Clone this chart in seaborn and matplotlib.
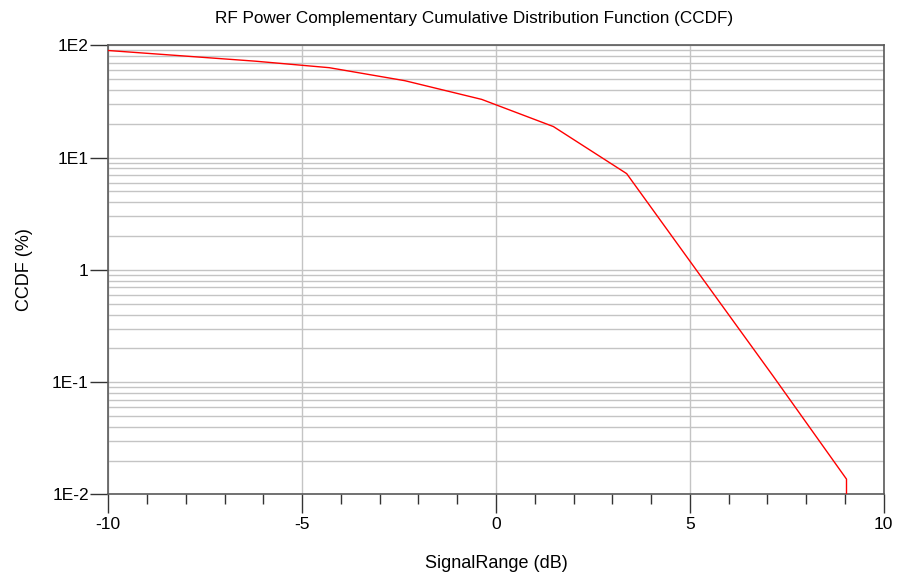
import matplotlib
matplotlib.use("Agg")
import matplotlib.pyplot as plt
import matplotlib.ticker as mticker
import seaborn as sns
import pandas as pd
import numpy as np

# Data
signal_db = [-10.0, -8.1, -6.2, -4.3, -2.35, -0.37, 1.48, 3.37, 5.25, 7.15, 9.04, 9.04]
ccdf_pct = [89.9, 80.6, 72.2, 63.2, 48.4, 33.0, 18.9, 7.2, 0.91, 0.113, 0.0137, 0.0098]

x_ticks = [-10, -5, 0, 5, 10]
x_labels = ["-10", "-5", "0", "5", "10"]
y_ticks = [1e-2, 1e-1, 1, 1e1, 1e2]
y_labels = ["1E-2", "1E-1", "1", "1E1", "1E2"]

sns.set_style("white")
plt.rcParams['font.family'] = ['Liberation Sans', 'DejaVu Sans']
plt.rcParams['text.color'] = 'black'
plt.rcParams['axes.labelcolor'] = 'black'
plt.rcParams['xtick.color'] = 'black'
plt.rcParams['ytick.color'] = 'black'

df = pd.DataFrame({"x": signal_db, "y": ccdf_pct, "order": range(len(signal_db))})

fig = plt.figure(figsize=(8.98, 5.78), dpi=100)
ax = fig.add_axes([0.1206, 0.1445, 0.8635, 0.7771])

ax.set_yscale("log")
ax.set_xlim(-10, 10)
ax.set_ylim(1e-2, 1e2)

ax.xaxis.set_major_locator(mticker.FixedLocator(x_ticks))
ax.xaxis.set_minor_locator(mticker.MultipleLocator(1))
ax.yaxis.set_major_locator(mticker.FixedLocator(y_ticks))
ax.yaxis.set_minor_locator(mticker.LogLocator(base=10, subs=np.arange(2, 10)))
ax.set_xticklabels(x_labels)
ax.set_yticklabels(y_labels)
ax.yaxis.set_minor_formatter(mticker.NullFormatter())

ax.grid(True, which="major", axis="both", color="#c4c4c4", linewidth=1.0)
ax.grid(True, which="minor", axis="y", color="#c4c4c4", linewidth=1.0)
ax.set_axisbelow(True)

sns.lineplot(data=df, x="x", y="y", sort=False, estimator=None,
             color="#ff0000", linewidth=1.0, ax=ax, zorder=3)

for s in ax.spines.values():
    s.set_color("#5a5a5a")
    s.set_linewidth(1.2)

ax.tick_params(axis="x", which="major", direction="out", length=14, width=1.0,
               color="#333333", labelsize=12.5, pad=2, bottom=True)
ax.tick_params(axis="x", which="minor", direction="out", length=7, width=1.0,
               color="#333333", bottom=True)
ax.tick_params(axis="y", which="major", direction="out", length=13, width=1.0,
               color="#333333", labelsize=12.5, pad=1, left=True)
ax.tick_params(axis="y", which="minor", length=0, left=False)

ax.set_xlabel("SignalRange (dB)", fontsize=13, labelpad=16.5)
ax.set_ylabel("CCDF (%)", fontsize=13, labelpad=14)

fig.text(0.528, 0.968, "RF Power Complementary Cumulative Distribution Function (CCDF)",
         ha="center", va="center", fontsize=12.3)

fig.savefig("out.png", dpi=100, facecolor="white")
